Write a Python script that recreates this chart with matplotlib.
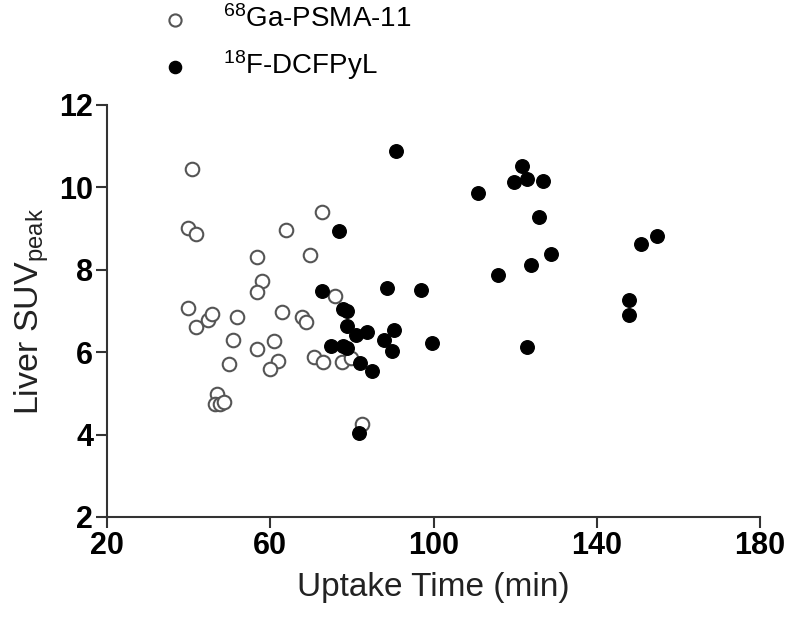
import matplotlib
matplotlib.use("Agg")
import matplotlib.pyplot as plt

plt.rcParams['font.family'] = ['Liberation Sans', 'DejaVu Sans']
plt.rcParams['mathtext.fontset'] = 'custom'
plt.rcParams['mathtext.rm'] = 'Liberation Sans'
plt.rcParams['mathtext.it'] = 'Liberation Sans:italic'
plt.rcParams['mathtext.bf'] = 'Liberation Sans:bold'

# 68Ga-PSMA-11 (open circles)
ga_time = [40.8, 39.8, 41.9, 72.8, 63.8, 69.7, 56.7, 57.9, 56.7, 75.9,
           39.8, 41.9, 44.7, 45.8, 51.8, 62.8, 67.8, 68.8, 50.8, 56.7,
           60.8, 61.9, 59.9, 49.8, 70.8, 72.9, 77.7, 79.9, 47.0, 46.4,
           47.6, 48.7, 82.6]
ga_suv = [10.45, 9.01, 8.86, 9.40, 8.96, 8.37, 8.30, 7.74, 7.45, 7.36,
          7.07, 6.62, 6.78, 6.92, 6.86, 6.98, 6.86, 6.74, 6.30, 6.08,
          6.28, 5.79, 5.60, 5.71, 5.89, 5.76, 5.76, 5.85, 4.99, 4.74,
          4.74, 4.80, 4.25]

# 18F-DCFPyL (filled circles)
f_time = [90.7, 72.7, 76.8, 110.9, 121.8, 119.7, 122.9, 126.9, 125.8, 128.7,
          123.8, 115.8, 88.7, 96.9, 77.8, 78.7, 78.8, 80.9, 83.7, 90.2,
          87.9, 89.8, 99.7, 74.8, 77.8, 78.8, 81.9, 84.9, 81.7, 122.8,
          154.8, 150.8, 147.8, 147.8]
f_suv = [10.88, 7.49, 8.93, 9.87, 10.52, 10.14, 10.20, 10.16, 9.29, 8.38,
         8.12, 7.87, 7.57, 7.52, 7.04, 7.00, 6.64, 6.42, 6.48, 6.54,
         6.29, 6.03, 6.22, 6.16, 6.16, 6.09, 5.73, 5.54, 4.05, 6.13,
         8.83, 8.62, 7.26, 6.90]

x_ticks = [20, 60, 100, 140, 180]
y_ticks = [2, 4, 6, 8, 10, 12]

fig = plt.figure(figsize=(7.87, 6.19), dpi=100)
ax = fig.add_axes([107/787, 1 - 517/619, (760-107)/787, (517-105)/619])

ax.scatter(ga_time, ga_suv, s=95, facecolors='white', edgecolors='#555555',
           linewidths=1.5, label=r'$^{68}$Ga-PSMA-11', zorder=3)
ax.scatter(f_time, f_suv, s=95, facecolors='black', edgecolors='black',
           linewidths=1.0, label=r'$^{18}$F-DCFPyL', zorder=4)

ax.set_xlim(20, 180)
ax.set_ylim(2, 12)
ax.set_xticks(x_ticks)
ax.set_yticks(y_ticks)
for lab in ax.get_xticklabels() + ax.get_yticklabels():
    lab.set_fontweight('bold')
ax.tick_params(axis='both', labelsize=22, length=8, width=1.5, color='#333333', pad=2)
for sp in ['top', 'right']:
    ax.spines[sp].set_visible(False)
for sp in ['left', 'bottom']:
    ax.spines[sp].set_linewidth(1.5)
    ax.spines[sp].set_color('#333333')

ax.set_xlabel('Uptake Time (min)', fontsize=24, labelpad=8, color='#222222')
ax.set_ylabel(r'Liver SUV$_{\mathrm{peak}}$', fontsize=24.5, labelpad=6, color='#222222')

fig.legend(loc='upper left', bbox_to_anchor=(147/787, 1.0 - 5/619), frameon=False,
           fontsize=20, handletextpad=0.72, labelspacing=0.55, borderpad=0.0,
           borderaxespad=0.0, scatterpoints=1, markerscale=0.9)

fig.savefig('out.png', dpi=100, facecolor='white')
